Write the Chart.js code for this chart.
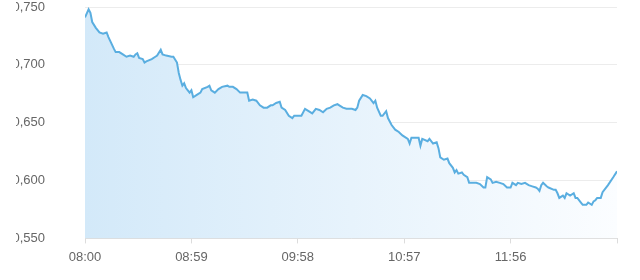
<!DOCTYPE html>
<html>
<head>
<meta charset="utf-8">
<script src="https://cdn.jsdelivr.net/npm/chart.js@4/dist/chart.umd.min.js"></script>
<style>
  html, body { margin: 0; padding: 0; background: #fff; }
  #wrap { position: absolute; left: 16px; top: 0; width: 624px; height: 280px; }
</style>
</head>
<body>
<div id="wrap"><canvas id="chart"></canvas></div>
<script>
// minutes after 08:00 and the value at that minute
const minutes = [
  0, 2, 3, 4, 6, 8, 10, 12, 13, 16, 17, 19, 21, 23, 25, 27, 28, 29, 30, 32,
  33, 34, 37, 39, 40, 42, 43, 45, 48, 49, 51, 52, 53, 54, 55, 56, 57, 58, 59, 60,
  62, 64, 65, 68, 69, 70, 72, 74, 76, 79, 80, 82, 84, 86, 88, 90, 91, 93, 95, 97,
  99, 101, 103, 104, 106, 108, 109, 111, 113, 115, 116, 118, 120, 122, 124, 126, 128, 130, 132, 134,
  136, 138, 140, 141, 143, 145, 148, 150, 151, 152, 154, 156, 158, 160, 161, 162, 164, 165, 167, 168,
  170, 172, 174, 176, 179, 180, 181, 183, 185, 186, 187, 190, 191, 193, 195, 196, 197, 199, 201, 202,
  204, 205, 206, 207, 209, 210, 212, 213, 215, 217, 219, 221, 222, 223, 225, 226, 228, 230, 232, 234,
  236, 237, 239, 240, 242, 244, 246, 248, 250, 251, 252, 253, 254, 256, 257, 260, 261, 262, 263, 265,
  266, 267, 269, 271, 272, 273, 275, 276, 278, 279, 281, 282, 283, 284, 286, 287, 290, 293, 295
]
const values = [
  0.741, 0.748, 0.745, 0.737, 0.732, 0.728, 0.727, 0.728, 0.724, 0.714, 0.711, 0.711, 0.709, 0.707, 0.708, 0.707, 0.709, 0.710, 0.706, 0.705,
  0.702, 0.703, 0.705, 0.707, 0.708, 0.713, 0.709, 0.708, 0.707, 0.707, 0.702, 0.693, 0.687, 0.682, 0.684, 0.680, 0.678, 0.676, 0.678, 0.672,
  0.674, 0.676, 0.679, 0.681, 0.682, 0.678, 0.676, 0.679, 0.681, 0.682, 0.681, 0.681, 0.679, 0.676, 0.676, 0.676, 0.669, 0.670, 0.669, 0.665,
  0.663, 0.663, 0.665, 0.665, 0.667, 0.668, 0.663, 0.661, 0.656, 0.654, 0.656, 0.656, 0.656, 0.662, 0.660, 0.658, 0.662, 0.661, 0.659, 0.662,
  0.663, 0.665, 0.666, 0.665, 0.663, 0.662, 0.662, 0.661, 0.663, 0.669, 0.674, 0.673, 0.671, 0.667, 0.669, 0.663, 0.656, 0.656, 0.660, 0.654,
  0.648, 0.644, 0.642, 0.639, 0.636, 0.632, 0.637, 0.637, 0.637, 0.630, 0.636, 0.634, 0.636, 0.632, 0.633, 0.628, 0.620, 0.618, 0.619, 0.615,
  0.611, 0.607, 0.609, 0.606, 0.607, 0.605, 0.603, 0.598, 0.598, 0.598, 0.597, 0.594, 0.594, 0.603, 0.601, 0.598, 0.599, 0.598, 0.597, 0.594,
  0.594, 0.598, 0.596, 0.598, 0.597, 0.598, 0.596, 0.595, 0.594, 0.593, 0.591, 0.596, 0.598, 0.595, 0.594, 0.592, 0.592, 0.589, 0.585, 0.587,
  0.585, 0.589, 0.587, 0.589, 0.585, 0.585, 0.581, 0.579, 0.579, 0.581, 0.579, 0.582, 0.583, 0.585, 0.585, 0.590, 0.596, 0.603, 0.608
]
const tickMinutes = [0, 59, 118, 177, 236, 295]
const tickLabels = ['08:00', '08:59', '09:58', '10:57', '11:56', '']

const points = minutes.map((m, i) => ({ x: m, y: values[i] }))

Chart.defaults.font.family = "'Liberation Sans', Arial, sans-serif"
Chart.defaults.font.size = 13
Chart.defaults.color = '#666'

function areaFill(ctx) {
  const area = ctx.chart.chartArea
  if (!area) return 'rgba(213,234,249,0.8)'
  const g = ctx.chart.ctx.createLinearGradient(area.left, 0, area.right, 0)
  g.addColorStop(0, '#d3e9f9')
  g.addColorStop(1, '#fbfdff')
  return g
}

new Chart(document.getElementById('chart'), {
  type: 'line',
  data: {
    datasets: [{
      data: points,
      borderColor: '#5aaee0',
      borderWidth: 2,
      pointRadius: 0,
      tension: 0,
      fill: 'start',
      backgroundColor: areaFill,
    }],
  },
  options: {
    responsive: true,
    maintainAspectRatio: false,
    animation: false,
    layout: { padding: { top: 0, right: 23, bottom: 9, left: 0 } },
    plugins: { legend: { display: false }, tooltip: { enabled: false } },
    scales: {
      x: {
        type: 'linear',
        min: 0,
        max: 295,
        afterBuildTicks: (scale) => { scale.ticks = tickMinutes.map(v => ({ value: v })) },
        ticks: {
          autoSkip: false,
          maxRotation: 0,
          padding: 6,
          color: '#666',
          callback: (v, i) => tickLabels[i] ?? '',
        },
        grid: { drawOnChartArea: false, tickLength: 5, color: '#dcdcdc' },
        border: { color: '#dcdcdc' },
      },
      y: {
        min: 0.55,
        max: 0.75,
        afterFit: (scale) => { scale.width = 69; scale.paddingTop = 7 },
        ticks: {
          stepSize: 0.05,
          padding: 0,
          color: '#666',
          callback: (v) => v.toFixed(3).replace('.', ','),
        },
        grid: { drawTicks: true, tickLength: 40, tickColor: 'transparent', color: '#ececec' },
        border: { display: false },
      },
    },
  },
})
</script>
</body>
</html>
